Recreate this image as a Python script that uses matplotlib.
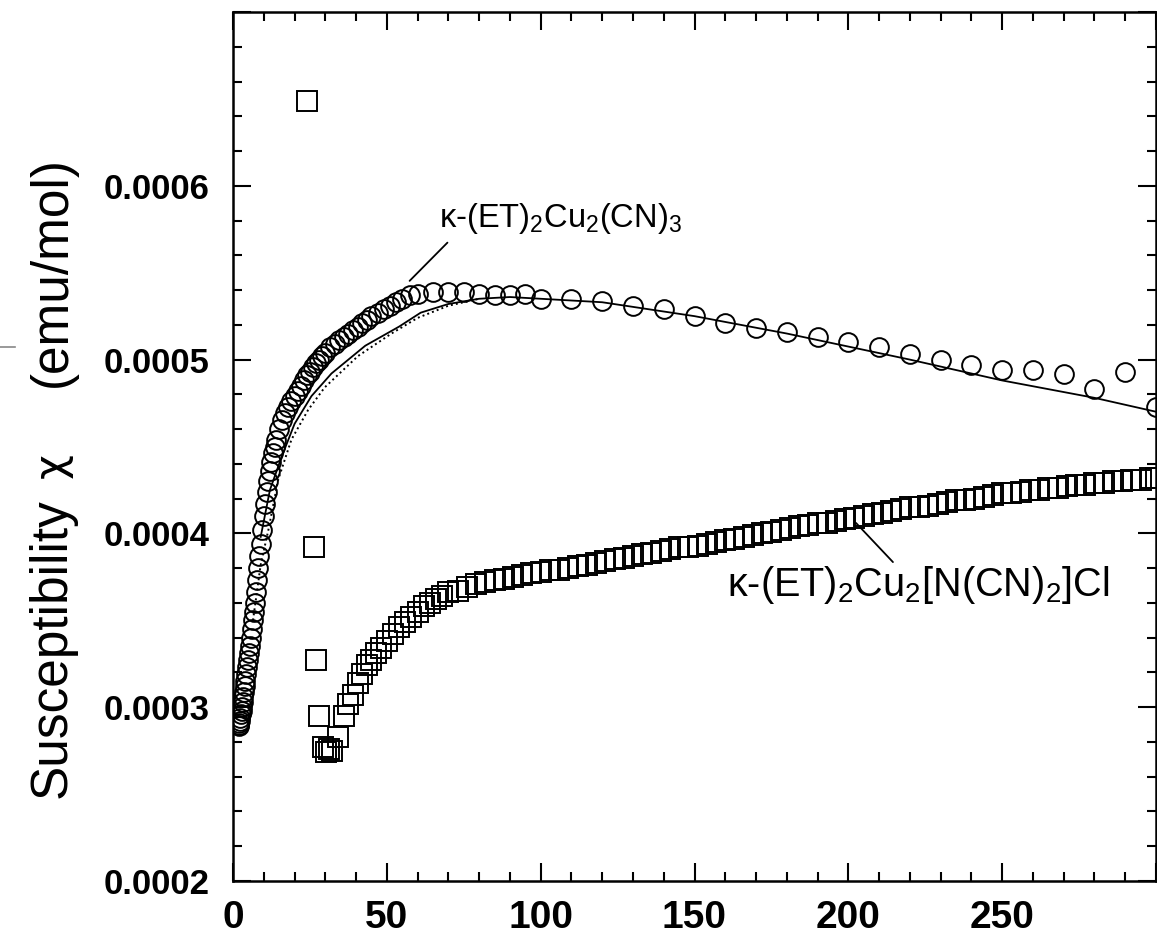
import matplotlib
matplotlib.use("Agg")
import matplotlib.pyplot as plt
from matplotlib.ticker import MultipleLocator
from matplotlib.lines import Line2D

plt.rcParams['font.family'] = ['Liberation Sans', 'DejaVu Sans']
plt.rcParams['mathtext.fontset'] = 'custom'
plt.rcParams['mathtext.rm'] = 'Liberation Sans'
plt.rcParams['mathtext.it'] = 'Liberation Sans:italic'
plt.rcParams['mathtext.bf'] = 'Liberation Sans:bold'

# kappa-(ET)2Cu2(CN)3, measured susceptibility
cn_T = [1.9, 2.0, 2.1, 2.2, 2.4, 2.6, 2.8, 3.0, 3.2, 3.4, 3.6, 3.8, 4.0, 4.3, 4.6,
        4.9, 5.2, 5.5, 5.8, 6.1, 6.4, 6.7, 7.0, 7.4, 7.8, 8.2, 8.6, 9.0, 9.5, 10.0,
        10.5, 11.0, 11.5, 12.0, 12.5, 13.0, 13.5, 14.0, 15.0, 16.0, 17.0, 18.0,
        19.0, 20.0, 21.0, 22.0, 23.0, 24.0, 25.0, 26.0, 27.0, 28.0, 29.0, 30.0,
        31.5, 33.0, 34.5, 36.0, 37.5, 39.0, 40.5, 42.0, 43.5, 45.0, 47.0, 49.0,
        51.0, 53.0, 55.0, 57.5, 60, 65, 70, 75, 80, 85, 90, 95, 100, 110, 120,
        130, 140, 150, 160, 170, 180, 190, 200, 210, 220, 230, 240, 250, 260,
        270, 280, 290, 300]
cn_chi = [0.000290, 0.000289, 0.000291, 0.000292, 0.000294, 0.000296, 0.000298,
          0.000300, 0.000303, 0.000306, 0.000309, 0.000312, 0.000315, 0.000319,
          0.000323, 0.000327, 0.000331, 0.000335, 0.000340, 0.000345, 0.000350,
          0.000355, 0.000360, 0.000366, 0.000373, 0.000380, 0.000387, 0.000394,
          0.000402, 0.000410, 0.000417, 0.000424, 0.000430, 0.000436, 0.000441,
          0.000446, 0.000450, 0.000454, 0.000460, 0.000465, 0.000469, 0.000473,
          0.000476, 0.000479, 0.000482, 0.000485, 0.000488, 0.000491, 0.000493,
          0.000496, 0.000498, 0.000500, 0.000502, 0.000504, 0.000507, 0.000509,
          0.000511, 0.000513, 0.000515, 0.000517, 0.000519, 0.000521, 0.000523,
          0.000525, 0.000527, 0.000529, 0.000531, 0.000533, 0.000535, 0.000537,
          0.000538, 0.000539, 0.000539, 0.000539, 0.000538, 0.000537, 0.000537,
          0.000538, 0.000535, 0.000535, 0.000534, 0.000531, 0.000529, 0.000525,
          0.000521, 0.000518, 0.000516, 0.000513, 0.000510, 0.000507, 0.000503,
          0.000500, 0.000497, 0.000494, 0.000494, 0.000492, 0.000483, 0.000493,
          0.000473]

# fit curves for the CN salt
fit_T = [9, 12, 15.8, 20, 25.5, 32, 43, 54, 61, 70, 80, 90, 100, 120, 150, 180,
         220, 250, 280, 300]
fit_chi = [0.000398, 0.000425, 0.000444, 0.000463, 0.000479, 0.000492, 0.000508,
           0.000519, 0.000527, 0.000532, 0.000535, 0.000536, 0.000535, 0.000533,
           0.000525, 0.000515, 0.000500, 0.000488, 0.000478, 0.000470]
fit2_T = [6.5, 9, 11.5, 14.7, 19, 24.4, 29.8, 40.6, 51.5, 60, 70, 80]
fit2_chi = [0.000350, 0.000382, 0.000402, 0.000431, 0.000454, 0.000471, 0.000484,
            0.000502, 0.000515, 0.000524, 0.000531, 0.000535]

# kappa-(ET)2Cu2[N(CN)2]Cl
cl_T = [24, 26.3, 27.1, 27.9, 29.3, 30.3, 31.2, 32.3, 34, 36, 37.5, 39, 40.5, 42,
        43.5, 45, 46.5, 48, 50, 52, 54, 56, 58, 60, 62, 64, 66, 68, 70, 73, 76,
        79, 82, 85, 88, 91, 94, 97, 100, 103, 106, 109, 112, 115, 118, 121, 124,
        127, 130, 133, 136, 139, 142, 145, 148, 151, 154, 157, 160, 163, 166, 169,
        172, 175, 178, 181, 184, 187, 190, 193, 196, 199, 202, 205, 208, 211,
        214, 217, 220, 223, 226, 229, 232, 235, 238, 241, 244, 247, 250, 253,
        256, 259, 262, 265, 268, 271, 274, 277, 280, 283, 286, 289, 292, 295,
        298, 300]
cl_chi = [0.000649, 0.000392, 0.000327, 0.000295, 0.000277, 0.000274, 0.000276,
          0.000275, 0.000283, 0.000295, 0.000302, 0.000307, 0.000314, 0.000319,
          0.000324, 0.000327, 0.000331, 0.000334, 0.000338, 0.000342, 0.000346,
          0.000349, 0.000352, 0.000355, 0.000358, 0.000360, 0.000362, 0.000364,
          0.000366, 0.000367, 0.000369, 0.000371, 0.000372, 0.000373, 0.000374,
          0.000375, 0.000376, 0.000377, 0.000378, 0.000379, 0.000379, 0.000380,
          0.000381, 0.000382, 0.000383, 0.000384, 0.000385, 0.000386, 0.000387,
          0.000388, 0.000389, 0.000390, 0.000391, 0.000392, 0.000392, 0.000393,
          0.000394, 0.000395, 0.000396, 0.000397, 0.000398, 0.000399, 0.000400,
          0.000401, 0.000402, 0.000403, 0.000404, 0.000405, 0.000406, 0.000406,
          0.000407, 0.000408, 0.000409, 0.000410, 0.000411, 0.000412, 0.000413,
          0.000414, 0.000415, 0.000415, 0.000416, 0.000417, 0.000418, 0.000419,
          0.000419, 0.000420, 0.000421, 0.000422, 0.000423, 0.000423, 0.000424,
          0.000425, 0.000425, 0.000426, 0.000426, 0.000427, 0.000428, 0.000428,
          0.000429, 0.000429, 0.000430, 0.000430, 0.000431, 0.000431, 0.000432,
          0.000432]

x_ticks = [0, 50, 100, 150, 200, 250, 300]
x_labels = ['0', '50', '100', '150', '200', '250', '']
y_ticks = [0.0002, 0.0003, 0.0004, 0.0005, 0.0006, 0.0007]
y_labels = ['0.0002', '0.0003', '0.0004', '0.0005', '0.0006', '']

fig = plt.figure(figsize=(11.57, 9.46), dpi=100)
ax = fig.add_axes([233 / 1157, 65 / 946, 923 / 1157, 869 / 946])

ax.plot(cn_T, cn_chi, 'o', ms=13.5, mfc='none', mec='black', mew=1.4, zorder=2)
ax.plot(cl_T, cl_chi, 's', ms=14, mfc='none', mec='black', mew=1.4, zorder=2)
ax.plot(fit_T, fit_chi, '-', color='black', lw=1.3, zorder=3)
ax.plot(fit2_T, fit2_chi, color='black', lw=1.4, ls=(0, (1, 1.6)), zorder=3)

ax.set_xlim(0, 300)
ax.set_ylim(0.0002, 0.0007)
ax.set_xticks(x_ticks)
ax.set_xticklabels(x_labels, fontsize=28, fontweight='bold')
ax.set_yticks(y_ticks)
ax.set_yticklabels(y_labels, fontsize=25, fontweight='bold')
ax.xaxis.set_minor_locator(MultipleLocator(10))
ax.yaxis.set_minor_locator(MultipleLocator(0.00002))
ax.tick_params(which='both', direction='in', top=True, right=True, width=1.5)
ax.tick_params(which='major', length=13)
ax.tick_params(which='minor', length=6.5)
ax.tick_params(axis='x', pad=14)
ax.tick_params(axis='y', pad=17)
for s in ax.spines.values():
    s.set_linewidth(1.8)

# sample labels with leader lines
ax.text(67, 0.0005764, r'κ-(ET)$_2$Cu$_2$(CN)$_3$', fontsize=23.5,
        ha='left', va='baseline')
ax.annotate('', xy=(57.4, 0.0005453), xytext=(69.7, 0.0005673),
            arrowprops=dict(arrowstyle='-', color='black', lw=1.3,
                            shrinkA=0, shrinkB=0))
ax.text(160.5, 0.0003640, r'κ-(ET)$_2$Cu$_2$[N(CN)$_2$]Cl', fontsize=28.5,
        ha='left', va='baseline')
ax.annotate('', xy=(202.5, 0.000406), xytext=(214.5, 0.0003835),
            arrowprops=dict(arrowstyle='-', color='black', lw=1.3,
                            shrinkA=0, shrinkB=0))

# y axis title, chi set in DejaVu for its curved glyph
ylab_x = 52 / 1157
fig.text(ylab_x, 1 - 648 / 946, 'Susceptibility', rotation=90, fontsize=37,
         ha='center', va='center')
fig.text(ylab_x, 1 - 466 / 946, 'χ', rotation=90, fontsize=31,
         family='DejaVu Sans', ha='center', va='center')
fig.text(ylab_x, 1 - 272 / 946, '(emu/mol)', rotation=90, fontsize=37,
         ha='center', va='center')
fig.add_artist(Line2D([0, 15 / 1157], [1 - 347 / 946, 1 - 347 / 946],
                      color='#888888', lw=1.2))

fig.savefig('out.png', dpi=100)
